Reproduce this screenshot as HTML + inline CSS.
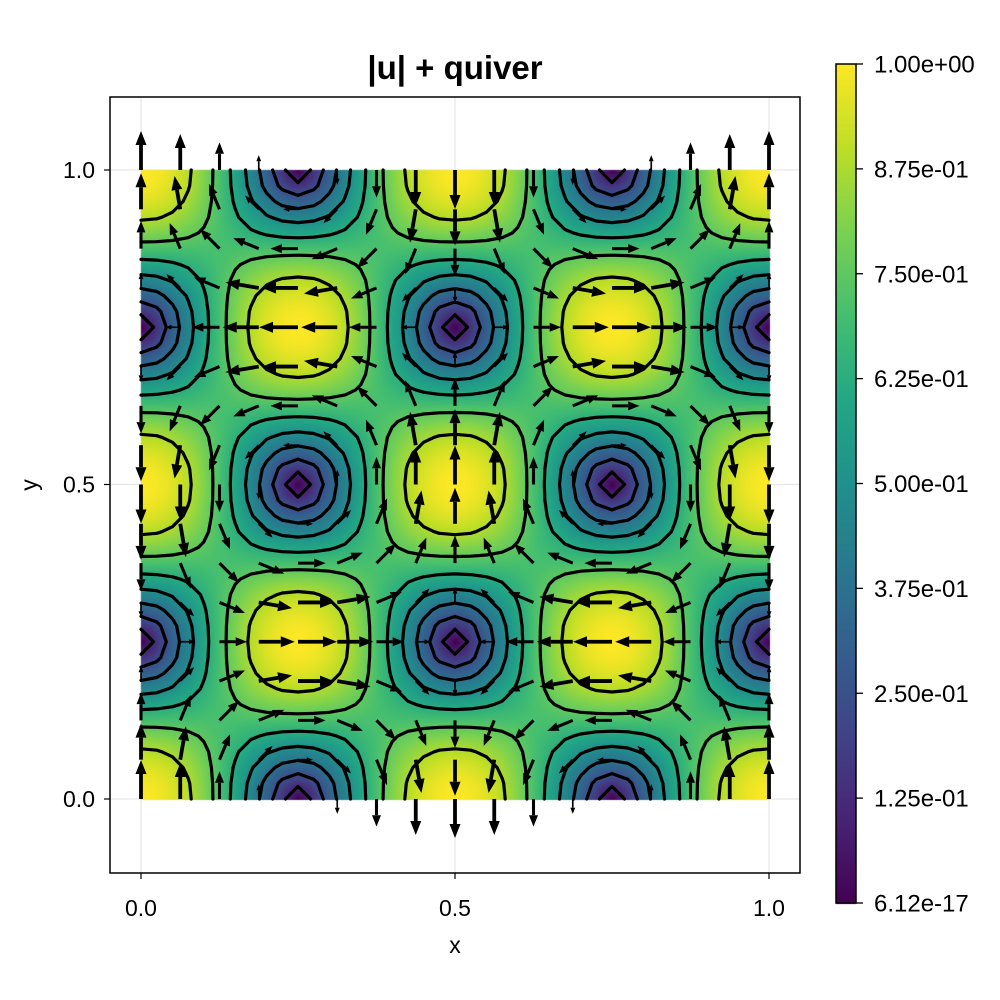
<!DOCTYPE html>
<html><head><meta charset="utf-8">
<style>
body{margin:0;background:#fff;font-family:"Liberation Sans",sans-serif;}
#wrap{position:relative;width:1000px;height:1000px;}
canvas,svg{position:absolute;left:0;top:0;}
</style></head>
<body>
<div id="wrap">
<svg id="gridsvg" width="1000" height="1000"></svg>
<canvas id="heat" width="1000" height="1000"></canvas>
<svg id="svg" width="1000" height="1000"></svg>
</div>
<script>
// ---- data ----
const xTicks = [0, 0.5, 1];
const xTickLabels = ["0.0", "0.5", "1.0"];
const yTicks = [0, 0.5, 1];
const yTickLabels = ["0.0", "0.5", "1.0"];
const cbarTicks = [1, 0.875, 0.75, 0.625, 0.5, 0.375, 0.25, 0.125, 6.12e-17];
const cbarLabels = ["1.00e+00","8.75e-01","7.50e-01","6.25e-01","5.00e-01","3.75e-01","2.50e-01","1.25e-01","6.12e-17"];
const contourLevels = [0.125, 0.25, 0.375, 0.5, 0.625, 0.75, 0.875];
const quiverN = 17;
const contourN = 41;
const title = "|u| + quiver";

// ---- axes ----
const X0 = 141, X1 = 769, Y0 = 799, Y1 = 170;
const sx = v => X0 + v * (X1 - X0);
const sy = v => Y0 + v * (Y1 - Y0);
const CB = {x:836, w:20, top:64, bot:903};
const cby = v => CB.bot + (v - 6.12e-17) / (1 - 6.12e-17) * (CB.top - CB.bot);

function field(x, y){
  const u = Math.sin(2*Math.PI*x)*Math.sin(2*Math.PI*y);
  const v = Math.cos(2*Math.PI*x)*Math.cos(2*Math.PI*y);
  return [u, v];
}
const mag = (x,y) => { const f = field(x,y); return Math.hypot(f[0], f[1]); };

const VIR = [[68,1,84],[72,35,116],[64,67,135],[52,94,141],[41,120,142],[32,144,140],[34,167,132],[68,190,112],[121,209,81],[189,222,38],[253,231,37]];
function viridis(t){
  t = Math.max(0, Math.min(1, t));
  const p = t*(VIR.length-1), i = Math.min(VIR.length-2, Math.floor(p)), f = p - i;
  return VIR[i].map((c,k) => Math.round(c + (VIR[i+1][k]-c)*f));
}

// heatmap + colorbar
const ctx = document.getElementById('heat').getContext('2d');
const img = ctx.createImageData(1000, 1000);
for (let py = Y1; py <= Y0; py++) for (let px = X0; px <= X1; px++) {
  const c = viridis(mag((px - X0)/(X1 - X0), (Y0 - py)/(Y0 - Y1)));
  const o = (py*1000 + px)*4;
  img.data[o]=c[0]; img.data[o+1]=c[1]; img.data[o+2]=c[2]; img.data[o+3]=255;
}
for (let py = CB.top; py <= CB.bot; py++) {
  const c = viridis((CB.bot - py)/(CB.bot - CB.top));
  for (let px = CB.x; px < CB.x + CB.w; px++) {
    const o = (py*1000 + px)*4;
    img.data[o]=c[0]; img.data[o+1]=c[1]; img.data[o+2]=c[2]; img.data[o+3]=255;
  }
}
ctx.putImageData(img, 0, 0);

const svg = document.getElementById('svg');
const gsvg = document.getElementById('gridsvg');
const NS = "http://www.w3.org/2000/svg";
function mk(tag, attrs, parent){
  const e = document.createElementNS(NS, tag);
  for (const k in attrs) e.setAttribute(k, attrs[k]);
  (parent || svg).appendChild(e);
  return e;
}

// grid lines (behind heatmap)
const grid = mk('g', {}, gsvg);


xTicks.forEach(t => mk('line', {x1:sx(t), x2:sx(t), y1:97, y2:873, stroke:'#e6e6e6', 'stroke-width':1.2}, grid));
yTicks.forEach(t => mk('line', {x1:110, x2:800, y1:sy(t), y2:sy(t), stroke:'#e6e6e6', 'stroke-width':1.2}, grid));

// contours (marching squares)
const cg = mk('g', {stroke:'#000', 'stroke-width':3.2, 'stroke-linecap':'round', fill:'none'});


const G = [];
for (let j = 0; j < contourN; j++) { G.push([]); for (let i = 0; i < contourN; i++) G[j].push(mag(i/(contourN-1), j/(contourN-1))); }
contourLevels.forEach(L => {
  let d = '';
  for (let j = 0; j < contourN-1; j++) for (let i = 0; i < contourN-1; i++) {
    const c = [[i,j],[i+1,j],[i+1,j+1],[i,j+1]];
    const v = c.map(p => G[p[1]][p[0]]);
    const pts = [];
    for (let e = 0; e < 4; e++) {
      const a = e, b = (e+1)%4;
      if ((v[a] < L) !== (v[b] < L)) {
        const t = (L - v[a])/(v[b] - v[a]);
        const gx = (c[a][0] + (c[b][0]-c[a][0])*t)/(contourN-1);
        const gy = (c[a][1] + (c[b][1]-c[a][1])*t)/(contourN-1);
        pts.push([sx(gx), sy(gy)]);
      }
    }
    for (let k = 0; k + 1 < pts.length; k += 2)
      d += `M${pts[k][0].toFixed(1)},${pts[k][1].toFixed(1)}L${pts[k+1][0].toFixed(1)},${pts[k+1][1].toFixed(1)}`;
  }
  const p = mk('path', {d}, cg);
  
  
});

// quiver
const qg = mk('g', {});


const LEN = 39;
for (let j = 0; j < quiverN; j++) for (let i = 0; i < quiverN; i++) {
  const x = i/(quiverN-1), y = j/(quiverN-1);
  const f = field(x, y);
  const m = Math.hypot(f[0], f[1]);
  if (m < 0.05) continue;
  const ux = f[0]/m, uy = -f[1]/m;
  const px = sx(x), py = sy(y);
  const L = LEN*m;
  const hs = Math.min(1, m*1.15);
  const hl = 14*hs, hw = 5.5*hs;
  const ex = px + ux*L, ey = py + uy*L;
  const bx = ex - ux*hl, by = ey - uy*hl;
  const a = mk('g', {}, qg);
  
  
  mk('line', {x1:px, y1:py, x2:bx, y2:by, stroke:'#000', 'stroke-width':Math.max(1, 3.8*hs)}, a);
  mk('polygon', {points:`${ex},${ey} ${bx - uy*hw},${by + ux*hw} ${bx + uy*hw},${by - ux*hw}`, fill:'#000'}, a);
}

// frame
const fr = mk('rect', {x:110, y:97, width:690, height:776, fill:'none', stroke:'#000', 'stroke-width':1.5});



// ticks
const tg = mk('g', {'font-size':23, fill:'#000'});


xTicks.forEach((t, k) => {
  mk('line', {x1:sx(t), x2:sx(t), y1:873, y2:879, stroke:'#000', 'stroke-width':1.2}, tg);
  const tx = mk('text', {x:sx(t), y:916, 'text-anchor':'middle'}, tg);
  tx.textContent = xTickLabels[k];
  
  
});
yTicks.forEach((t, k) => {
  mk('line', {x1:104, x2:110, y1:sy(t), y2:sy(t), stroke:'#000', 'stroke-width':1.2}, tg);
  const tx = mk('text', {x:95, y:sy(t)+8, 'text-anchor':'end'}, tg);
  tx.textContent = yTickLabels[k];
  
  
});

// labels
const xl = mk('text', {x:455, y:953, 'text-anchor':'middle', 'font-size':23});
xl.textContent = 'x';


const yl = mk('text', {x:37, y:485, 'text-anchor':'middle', 'font-size':23, transform:'rotate(-90 37 485)'});
yl.textContent = 'y';


const tt = mk('text', {x:455, y:79, 'text-anchor':'middle', 'font-size':33, 'font-weight':'bold'});
tt.textContent = title;



// colorbar
const cbg = mk('g', {'font-size':24, fill:'#000'});


mk('rect', {x:CB.x, y:CB.top, width:CB.w, height:CB.bot-CB.top, fill:'none', stroke:'#000', 'stroke-width':1.5}, cbg);
cbarTicks.forEach((t, k) => {
  const y = cby(t);
  mk('line', {x1:CB.x+CB.w, x2:CB.x+CB.w+7, y1:y, y2:y, stroke:'#000', 'stroke-width':1.3}, cbg);
  const tx = mk('text', {x:874, y:y+8.5}, cbg);
  tx.textContent = cbarLabels[k];
  
  
});
</script>
</body></html>
